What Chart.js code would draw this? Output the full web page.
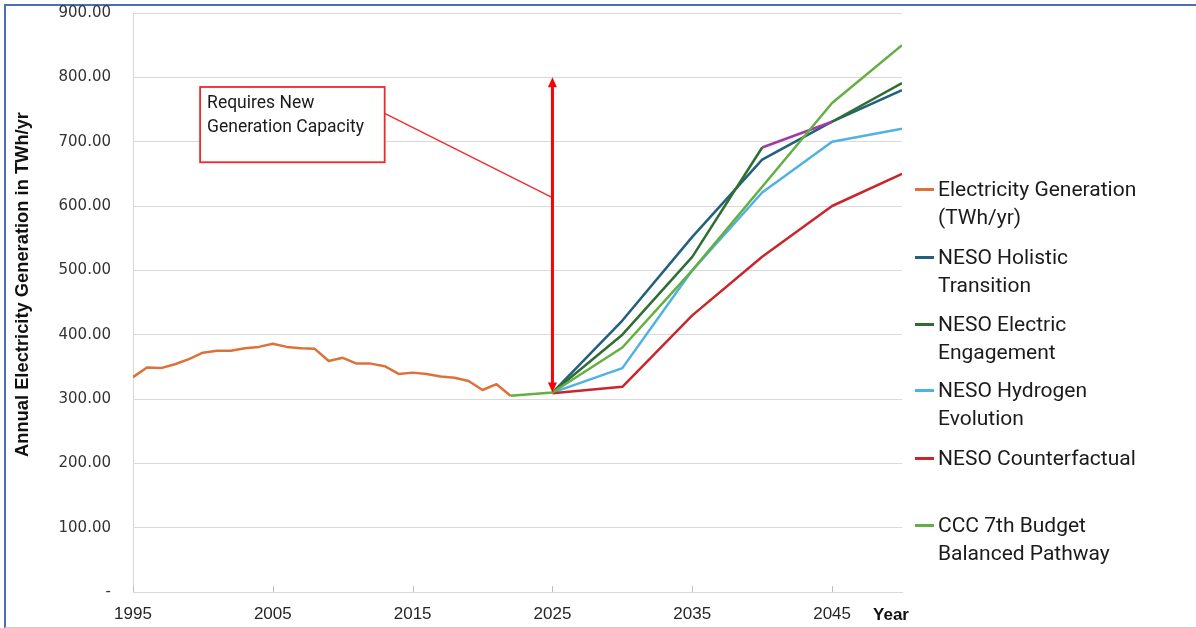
<!DOCTYPE html>
<html>
<head>
<meta charset="utf-8">
<script src="https://cdn.jsdelivr.net/npm/chart.js@4.4.1/dist/chart.umd.min.js"></script>
<style>
html, body { margin: 0; padding: 0; background: #fff; }
#wrap { position: relative; width: 1196px; height: 628px; overflow: hidden; }
#frame { position: absolute; left: 4px; top: 4px; width: 1300px; height: 621px;
  border-top: 2px solid #4a6fb8; border-left: 2px solid #4a6fb8; border-bottom: 1px solid #c5cbdc; }
canvas { position: absolute; left: 0; top: 0; }
.item { position: absolute; left: 915px; width: 270px; font-family: Roboto, "Noto Sans", sans-serif;
  font-size: 21px; line-height: 28px; color: #1b1b1b; }
.swatch { position: absolute; left: 0; top: 13px; width: 19px; height: 3px; }
.txt { margin-left: 23px; width: 214px; }
</style>
</head>
<body>
<div id="wrap">
  <div id="frame"></div>
  <canvas id="lineChart" width="1196" height="628"></canvas>
  <div id="legend"></div>
</div>
<script>
// ===================== dados =====================
// historico anual (TWh/yr)
const histYears = [1995, 1996, 1997, 1998, 1999, 2000, 2001, 2002, 2003, 2004,
                   2005, 2006, 2007, 2008, 2009, 2010, 2011, 2012, 2013, 2014,
                   2015, 2016, 2017, 2018, 2019, 2020, 2021, 2022]
const histGen = [334, 349, 348, 354, 362, 372, 375, 375, 379, 381,
                 386, 381, 379, 378, 359, 364, 355, 355, 351, 339,
                 341, 339, 335, 333, 328, 314, 323, 305]

// cenarios NESO (a cada 5 anos)
const scenYears = [2025, 2030, 2035, 2040, 2045, 2050]
const holistic = [310, 422, 552, 672, 731, 780]
const electric = [310, 400, 521, 691, 731, 791]
const hydrogen = [310, 348, 500, 621, 700, 720]
const counterfactual = [309, 319, 430, 521, 600, 650]

// CCC 7th budget
const cccYears = [2022, 2025, 2030, 2035, 2040, 2045, 2050]
const ccc = [305, 310, 380, 500, 630, 760, 850]

// eixos
const yTicks = [0, 100, 200, 300, 400, 500, 600, 700, 800, 900]
const xTicks = [1995, 2005, 2015, 2025, 2035, 2045]

const seriesNames = [
    'Electricity Generation (TWh/yr)',
    'NESO Holistic Transition',
    'NESO Electric Engagement',
    'NESO Hydrogen Evolution',
    'NESO Counterfactual',
    'CCC 7th Budget Balanced Pathway'
]

// ===================== estilos =====================
const colors = ['#dc7239', '#23607e', '#2e6e31', '#4fb2e3', '#c8262b', '#62b043']
const purple = '#a33aa3'
const legendTops = [175, 243, 310, 376, 444, 511]

const toPts = (xs, ys) => xs.map((x, i) => ({ x: x, y: ys[i] }))

const dataLine = {
    datasets: [
        { label: seriesNames[0], data: toPts(histYears, histGen), borderColor: colors[0], order: 5 },
        { label: seriesNames[1], data: toPts(scenYears, holistic), borderColor: colors[1], order: 4 },
        { label: seriesNames[2], data: toPts(scenYears, electric), borderColor: colors[2], order: 3,
          // trecho 2040-2045 aparece roxo no original
          segment: { borderColor: c => c.p0.parsed.x === 2040 ? purple : undefined } },
        { label: seriesNames[3], data: toPts(scenYears, hydrogen), borderColor: colors[3], order: 2 },
        { label: seriesNames[4], data: toPts(scenYears, counterfactual), borderColor: colors[4], order: 1 },
        { label: seriesNames[5], data: toPts(cccYears, ccc), borderColor: colors[5], order: 0 }
    ]
}
dataLine.datasets.forEach(d => {
    d.borderWidth = 2.5
    d.pointRadius = 0
    d.tension = 0
    d.fill = false
    d.borderJoinStyle = 'round'
})

// anotacao: caixa + seta vermelha (coordenadas em unidades dos eixos)
const annotationPlugin = {
    id: 'annot',
    afterDatasetsDraw(chart) {
        const ctx = chart.ctx
        const xs = chart.scales.x, ys = chart.scales.y
        const px = v => xs.getPixelForValue(v)
        const py = v => ys.getPixelForValue(v)
        ctx.save()
        // ticks do eixo x (para dentro)
        ctx.strokeStyle = '#bfbfbf'
        ctx.lineWidth = 1
        xTicks.forEach(t => {
            const x = Math.round(px(t)) + 0.5
            ctx.beginPath(); ctx.moveTo(x, ys.bottom); ctx.lineTo(x, ys.bottom - 6); ctx.stroke()
        })
        // caixa
        const bx0 = px(1999.8), bx1 = px(2013.0), by0 = py(785), by1 = py(668)
        ctx.fillStyle = '#fff'
        ctx.fillRect(bx0, by0, bx1 - bx0, by1 - by0)
        ctx.strokeStyle = '#f0282d'
        ctx.lineWidth = 1.8
        ctx.strokeRect(bx0, by0, bx1 - bx0, by1 - by0)
        ctx.fillStyle = '#1b1b1b'
        ctx.font = '17.5px Roboto, "Noto Sans", sans-serif'
        ctx.textBaseline = 'middle'
        ctx.textAlign = 'left'
        ctx.fillText('Requires New', bx0 + 7, by0 + 17)
        ctx.fillText('Generation Capacity', bx0 + 7, by0 + 41)
        // conector
        ctx.strokeStyle = '#f0282d'
        ctx.lineWidth = 1.3
        ctx.beginPath(); ctx.moveTo(bx1, py(744)); ctx.lineTo(px(2025), py(613)); ctx.stroke()
        // seta dupla
        const ax = px(2025), aTop = py(800), aBot = py(310)
        ctx.strokeStyle = '#ff0000'
        ctx.fillStyle = '#ff0000'
        ctx.lineWidth = 3
        ctx.beginPath(); ctx.moveTo(ax, aTop + 8); ctx.lineTo(ax, aBot - 8); ctx.stroke()
        ctx.beginPath(); ctx.moveTo(ax, aTop); ctx.lineTo(ax - 4.5, aTop + 10); ctx.lineTo(ax + 4.5, aTop + 10); ctx.closePath(); ctx.fill()
        ctx.beginPath(); ctx.moveTo(ax, aBot); ctx.lineTo(ax - 4.5, aBot - 10); ctx.lineTo(ax + 4.5, aBot - 10); ctx.closePath(); ctx.fill()
        ctx.restore()
    },
    afterDraw(chart) {
        const ctx = chart.ctx
        const area = chart.chartArea
        ctx.save()
        // titulo do eixo y
        ctx.translate(23, (area.top + area.bottom) / 2 - 18)
        ctx.rotate(-Math.PI / 2)
        ctx.font = 'bold 19px "Liberation Sans Narrow", "Liberation Sans", sans-serif'
        ctx.fillStyle = '#111'
        ctx.textAlign = 'center'
        ctx.textBaseline = 'middle'
        ctx.fillText('Annual Electricity Generation in TWh/yr', 0, 0, 345)
        ctx.restore()
        // "Year"
        ctx.save()
        ctx.font = 'bold 17px "Liberation Sans Narrow", "Liberation Sans", sans-serif'
        ctx.fillStyle = '#111'
        ctx.textAlign = 'center'
        ctx.textBaseline = 'middle'
        ctx.fillText('Year', 891, 615)
        ctx.restore()
    }
}

const optionsLine = {
    responsive: false,
    animation: false,
    devicePixelRatio: 1,
    layout: { padding: { left: 0, top: 13, right: 294, bottom: 0 } },
    plugins: { legend: { display: false }, tooltip: { enabled: false } },
    scales: {
        x: {
            type: 'linear',
            min: 1995,
            max: 2050,
            afterFit: s => { s.height = 36; s.paddingLeft = 0; s.paddingRight = 0 },
            afterBuildTicks: s => { s.ticks = xTicks.map(v => ({ value: v })) },
            grid: { display: false, drawTicks: false },
            border: { display: true, color: '#d9d9d9', width: 1 },
            ticks: {
                autoSkip: false,
                maxRotation: 0,
                padding: 12,
                color: '#262626',
                font: { family: '"Liberation Sans Narrow", "Liberation Sans", sans-serif', size: 17 },
                callback: v => String(v)
            }
        },
        y: {
            min: 0,
            max: 900,
            afterFit: s => { s.width = 133; s.paddingTop = 0; s.paddingBottom = 0 },
            afterBuildTicks: s => { s.ticks = yTicks.map(v => ({ value: v })) },
            grid: { color: '#d9d9d9', lineWidth: 1, drawTicks: false },
            border: { display: true, color: '#d9d9d9', width: 1 },
            ticks: {
                padding: 22,
                color: '#333',
                font: { family: '"DejaVu Sans", sans-serif', size: 15 },
                callback: v => v === 0 ? '-' : v.toFixed(2)
            }
        }
    }
}

const configLine = {
    type: 'line',
    data: dataLine,
    options: optionsLine,
    plugins: [annotationPlugin]
}
const ctxLine = document.getElementById('lineChart').getContext('2d')
const lineChart = new Chart(ctxLine, configLine)

// legenda em HTML
const legendBox = document.getElementById('legend')
seriesNames.forEach((name, i) => {
    const item = document.createElement('div')
    item.className = 'item'
    item.style.top = legendTops[i] + 'px'
    item.innerHTML = '<div class="swatch" style="background:' + colors[i] + '"></div><div class="txt">' + name + '</div>'
    legendBox.appendChild(item)
})
</script>
</body>
</html>
